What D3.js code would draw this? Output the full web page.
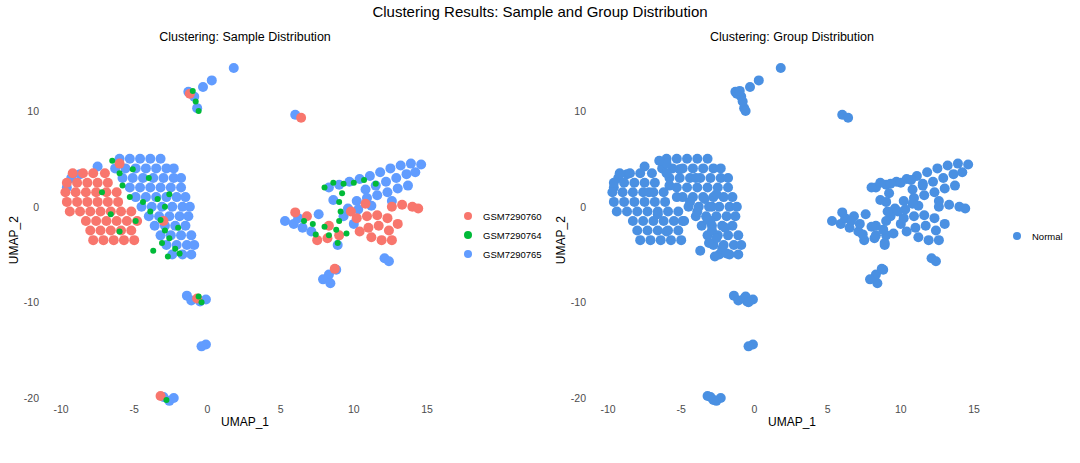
<!DOCTYPE html><html><head><meta charset="utf-8"><script src="https://cdn.jsdelivr.net/npm/d3@7"></script>
<style>body{margin:0;background:#fff}text{font-family:"Liberation Sans",Arial,sans-serif}</style></head><body><svg id="c" width="1080" height="463"></svg>
<script>
const samples=["GSM7290760","GSM7290764","GSM7290765"];
const sampleColors=["#F8766D","#00BA38","#619CFF"];
const groups=["Normal"];
const groupColor="#4A90E2";
const xTicks=[-10,-5,0,5,10,15];
const yTicks=[10,0,-10,-20];
// points per sample, "x,y" in UMAP units
const blueRows={5:[-6,-5.3,-4.6,-3.9,-3.2],4:[-6.3,-5.6,-4.9,-4.2,-3.5,-2.8,-2.3],3:[-5.8,-5.1,-4.4,-3.7,-3,-2.3,-1.8],2:[-5.3,-4.6,-3.9,-3.2,-2.5,-1.8],1:[-4.9,-4.2,-3.5,-2.8,-2.1,-1.5],0:[-4.5,-3.8,-3.1,-2.4,-1.7,-1.2],"-1":[-4,-3.3,-2.6,-1.9,-1.3],"-2":[-3.6,-2.9,-2.2,-1.5],"-3":[-3.2,-2.5,-1.8,-1.1],"-4":[-2.8,-2.1,-1.4,-0.9],"-5":[-2.4,-1.7,-1.1]};
const redRows={3.5:[-9.2,-8.5,-7.8,-7],2.5:[-9.6,-8.9,-8.2,-7.5,-6.8],1.5:[-9.7,-9,-8.3,-7.6,-6.9,-6.2],0.5:[-9.6,-8.9,-8.2,-7.5,-6.8,-6.1],"-0.5":[-9.4,-8.7,-8,-7.3,-6.6,-5.9,-5.2],"-1.5":[-8.3,-7.6,-6.9,-6.2,-5.5,-4.8],"-2.5":[-8,-7.3,-6.6,-5.9,-5.2],"-3.5":[-7.8,-7.1,-6.4,-5.7,-5]};
const blueExtra=[[-9.3,3],[-8.7,3.4],[-9.6,2],[-7.5,4.2],[8.3,2.0],[9.0,2.3],[9.7,2.6],[10.4,2.9],[11.1,3.2],[11.8,3.6],[12.5,4.0],[13.2,4.3],[13.9,4.5],[14.6,4.4],[10.8,1.8],[11.5,2.2],[12.2,2.6],[12.9,3.0],[13.6,3.4],[14.2,3.6],[10.2,0.6],[10.9,0.9],[11.6,1.2],[12.3,1.5],[13.0,1.9],[13.7,2.2],[9.6,-0.2],[10.3,-0.3],[11.2,0.1],[12.6,0.6],[5.3,-1.5],[5.9,-1.8],[6.5,-2.2],[7.1,-2.6],[6.2,-1.2],[7.6,-0.8],[8.6,0.7],[9.3,-1.0],[10.0,-1.8],[8.9,-4.0],[-0.9,11.5],[-1.3,12.0],[-0.7,10.3],[0.3,13.2],[1.8,14.5],[-0.3,12.5],[6.0,9.6],[8.3,-7.1],[8.8,-6.6],[7.9,-7.6],[8.4,-8.0],[12.1,-5.4],[12.4,-5.7],[-1.4,-9.3],[-1.1,-9.8],[-0.5,-9.9],[-0.1,-9.7],[-0.1,-14.4],[-0.4,-14.6],[-3.0,-19.9],[-2.6,-20.3],[-2.3,-20.0]];
const redExtra=[[-6,4.5],[-3,-1.5],[10.2,-1.2],[10.9,-1.0],[11.6,-0.9],[12.3,-1.2],[11.0,-2.2],[11.7,-2.0],[12.4,-2.5],[11.2,-3.2],[11.9,-3.5],[12.6,-3.5],[10.4,-2.6],[13.0,-1.8],[12.6,0.0],[13.3,0.2],[14.0,0.0],[14.4,-0.2],[9.8,-0.5],[7.5,-3.5],[8.2,-3.3],[9.0,-3.0],[6.0,-0.6],[6.8,-1.0],[8.3,-2.0],[10.8,0.3],[-1.2,11.8],[6.4,9.3],[8.7,-6.5],[-0.7,-9.6],[-3.2,-19.8]];
const greenPts=[[-6.5,4.8],[-6,3.5],[-5.8,2.2],[-5.3,1],[-4.4,0.5],[-3.9,-0.5],[-3.2,-1.4],[-2.9,-2.5],[-2.6,-3.3],[-2.2,-4.4],[-2.7,-5.2],[-3.4,0.8],[-2.6,1.3],[-3.1,-3.8],[-1.9,-4.9],[-7.2,1.5],[-6.6,-0.8],[-4.9,-1.5],[-3.7,-4.6],[-2.0,-2.2],[-4.0,3.0],[-2.9,0.0],[-5.1,3.9],[-6.0,-2.6],[8.0,2.0],[8.6,2.5],[9.3,2.4],[10.0,2.5],[10.7,2.8],[9.2,1.4],[9.0,0.5],[9.1,-0.5],[9.0,-1.5],[8.8,-2.4],[8.0,-2.1],[7.2,-1.8],[6.6,-1.5],[7.4,-2.9],[8.3,-3.0],[9.5,-2.8],[8.9,-3.8],[11.5,2.4],[-0.8,11.0],[-0.6,10.0],[-1.0,12.1],[-0.6,-9.4],[-0.4,-10.0],[-2.8,-20.2]];

function rows(r){const o=[];for(const k in r)for(const x of r[k])o.push([x,+k]);return o;}
const data=[].concat(rows(blueRows).map(p=>[...p,2]),blueExtra.map(p=>[...p,2]),rows(redRows).map(p=>[...p,0]),redExtra.map(p=>[...p,0]),greenPts.map(p=>[...p,1]));

const svg=d3.select("#c");
svg.append("text").attr("x",540).attr("y",17).attr("text-anchor","middle").attr("font-size",15).text("Clustering Results: Sample and Group Distribution");
const y=d3.scaleLinear().domain([-20,10]).range([398,111]);
function panel(x0,title,colorFn,rFn,legend){
  const x=d3.scaleLinear().domain([-10,15]).range([x0,x0+366]);
  const g=svg.append("g");
  g.append("text").attr("x",x0+184).attr("y",41).attr("text-anchor","middle").attr("font-size",12.5).text(title);
  g.selectAll("circle").data(data).join("circle").attr("cx",d=>x(d[0])).attr("cy",d=>y(d[1])).attr("r",rFn).attr("fill",colorFn);
  g.selectAll(".xt").data(xTicks).join("text").attr("x",d=>x(d)).attr("y",413).attr("text-anchor","middle").attr("font-size",10.5).attr("fill","#4d4d4d").text(d=>d);
  g.selectAll(".yt").data(yTicks).join("text").attr("x",x0-22).attr("y",d=>y(d)+4).attr("text-anchor","end").attr("font-size",10.5).attr("fill","#4d4d4d").text(d=>d);
  g.append("text").attr("x",x0+184).attr("y",426).attr("text-anchor","middle").attr("font-size",12).text("UMAP_1");
  g.append("text").attr("transform",`translate(${x0-43},${y(-3.5)}) rotate(-90)`).attr("text-anchor","middle").attr("font-size",12).text("UMAP_2");
  legend(g);
}
panel(61,"Clustering: Sample Distribution",d=>sampleColors[d[2]],d=>d[2]===1?3:5,g=>{
  samples.forEach((s,i)=>{g.append("circle").attr("cx",468).attr("cy",216+i*19).attr("r",4).attr("fill",sampleColors[i]);
  g.append("text").attr("x",483).attr("y",219.5+i*19).attr("font-size",9.5).text(s);});
});
panel(608,"Clustering: Group Distribution",()=>groupColor,()=>5,g=>{
  g.append("circle").attr("cx",1017).attr("cy",236).attr("r",4).attr("fill",groupColor);
  g.append("text").attr("x",1032).attr("y",239.5).attr("font-size",9.5).text(groups[0]);
});
</script></body></html>
